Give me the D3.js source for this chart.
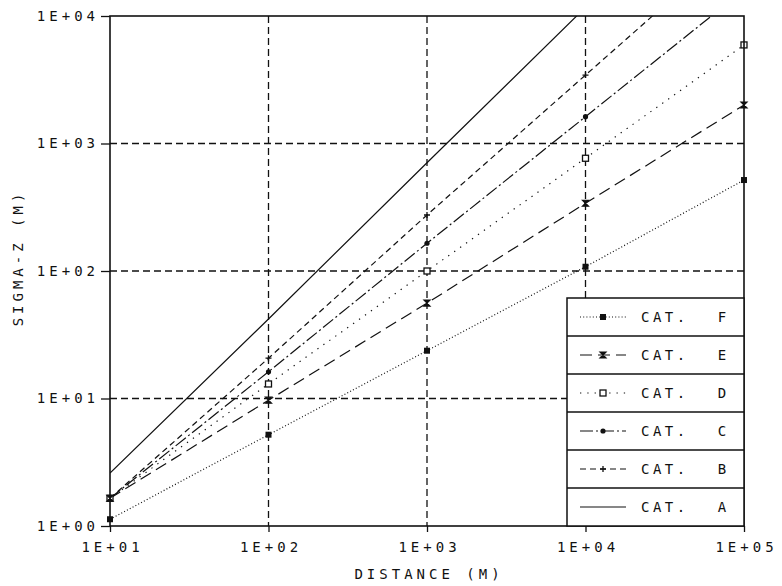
<!DOCTYPE html>
<html>
<head>
<meta charset="utf-8">
<script src="https://cdn.jsdelivr.net/npm/d3@7"></script>
<style>
  html, body { margin: 0; padding: 0; background: #fff; }
  svg text { font-family: "DejaVu Sans Mono", monospace; fill: #111; }
</style>
</head>
<body>
<svg id="chart" width="782" height="586"></svg>
<script>
// ---- data ----
const distances = [10, 100, 1000, 10000, 100000];
const catA = [2.6, 42, 707, 11700];
const catB = [1.65, 20.7, 275, 3440, 43000];
const catC = [1.65, 16.2, 165, 1623, 16000];
const catD = [1.65, 13, 100, 766, 5930];
const catE = [1.65, 9.7, 56, 340, 2005];
const catF = [1.13, 5.2, 23.7, 108, 517];
const xTicks = [10, 100, 1000, 10000, 100000];
const yTicks = [1, 10, 100, 1000, 10000];
const xTickLabels = ["1E+01", "1E+02", "1E+03", "1E+04", "1E+05"];
const yTickLabels = ["1E+00", "1E+01", "1E+02", "1E+03", "1E+04"];
const legendNames = ["CAT. F", "CAT. E", "CAT. D", "CAT. C", "CAT. B", "CAT. A"];

const seriesList = [
  { name: "CAT. A", values: catA, dash: null, marker: null },
  { name: "CAT. B", values: catB, dash: "6,4", marker: "plus" },
  { name: "CAT. C", values: catC, dash: "13,3,2,3", marker: "dot" },
  { name: "CAT. D", values: catD, dash: "1.3,6", marker: "sqOpen" },
  { name: "CAT. E", values: catE, dash: "12,6", marker: "hourglass" },
  { name: "CAT. F", values: catF, dash: "1,2.2", marker: "sqFill" }
];

// ---- layout ----
const svg = d3.select("#chart");
const L = 110, R = 744, T = 16, B = 526;
const x = d3.scaleLog().domain([10, 1e5]).range([L, R]);
const y = d3.scaleLog().domain([1, 1e4]).range([B, T]);
const ink = "#111";

svg.append("defs").append("clipPath").attr("id", "plotclip")
  .append("rect").attr("x", L).attr("y", T).attr("width", R - L).attr("height", B - T);

// gridlines
const grid = svg.append("g").attr("stroke", ink).attr("stroke-width", 1.3).attr("stroke-dasharray", "7,4");
xTicks.slice(1, -1).forEach(v => {
  grid.append("line").attr("x1", x(v)).attr("x2", x(v)).attr("y1", T).attr("y2", B);
});
yTicks.slice(1, -1).forEach(v => {
  grid.append("line").attr("x1", L).attr("x2", R).attr("y1", y(v)).attr("y2", y(v));
});

// series lines
const lineGen = d3.line().x((d, i) => x(distances[i])).y(d => y(d));
const plot = svg.append("g").attr("clip-path", "url(#plotclip)");
seriesList.forEach(s => {
  plot.append("path")
    .attr("d", lineGen(s.values))
    .attr("fill", "none")
    .attr("stroke", ink)
    .attr("stroke-width", 1.2)
    .attr("stroke-dasharray", s.dash);
});

function drawMarker(g, type, cx, cy) {
  const r = 3;
  if (type === "plus") {
    g.append("path").attr("d", `M${cx - r},${cy}H${cx + r}M${cx},${cy - r}V${cy + r}`)
      .attr("stroke", ink).attr("stroke-width", 1.3).attr("fill", "none");
  } else if (type === "dot") {
    g.append("circle").attr("cx", cx).attr("cy", cy).attr("r", 2.6).attr("fill", ink);
  } else if (type === "sqOpen") {
    g.append("rect").attr("x", cx - 3).attr("y", cy - 3).attr("width", 6).attr("height", 6)
      .attr("fill", "#fff").attr("stroke", ink).attr("stroke-width", 1.3);
  } else if (type === "hourglass") {
    g.append("path").attr("d", `M${cx - r},${cy - r}H${cx + r}L${cx - r},${cy + r}H${cx + r}Z`)
      .attr("stroke", ink).attr("stroke-width", 1.2).attr("fill", ink);
  } else if (type === "sqFill") {
    g.append("rect").attr("x", cx - 3).attr("y", cy - 3).attr("width", 6).attr("height", 6).attr("fill", ink);
  }
}

const markers = svg.append("g");
seriesList.forEach(s => {
  if (!s.marker) return;
  s.values.forEach((v, i) => {
    if (v <= 1e4) drawMarker(markers, s.marker, x(distances[i]), y(v));
  });
});

// frame
svg.append("rect").attr("x", L).attr("y", T).attr("width", R - L).attr("height", B - T)
  .attr("fill", "none").attr("stroke", ink).attr("stroke-width", 1.6);

// axes
const fontSize = 14, spacing = 4;
function styleText(sel, fs, sp) {
  sel.attr("font-size", fs).style("letter-spacing", sp + "px").attr("fill", ink);
}
const xAxis = d3.axisBottom(x).tickValues(xTicks).tickSize(6).tickPadding(10)
  .tickFormat((d, i) => xTickLabels[i]);
const gx = svg.append("g").attr("transform", `translate(0,${B})`).call(xAxis);
gx.select(".domain").remove();
gx.selectAll("line").attr("stroke", ink).attr("stroke-width", 1.3);
styleText(gx.selectAll("text"), fontSize, spacing);
gx.selectAll("text").attr("dx", spacing / 2);

const yAxis = d3.axisLeft(y).tickValues(yTicks).tickSize(9).tickPadding(6)
  .tickFormat((d, i) => yTickLabels[i]);
const gy = svg.append("g").attr("transform", `translate(${L},0)`).call(yAxis);
gy.select(".domain").remove();
gy.selectAll("line").attr("stroke", ink).attr("stroke-width", 1.3);
styleText(gy.selectAll("text"), fontSize, spacing);
gy.selectAll("text").attr("dx", spacing);

styleText(svg.append("text").attr("x", (L + R) / 2 + spacing / 2).attr("y", 579)
  .attr("text-anchor", "middle").text("DISTANCE (M)"), fontSize, spacing);

styleText(svg.append("text").attr("transform", "translate(23,258) rotate(-90)")
  .attr("text-anchor", "middle").text("SIGMA-Z (M)"), fontSize, spacing);

// legend
const legX0 = 567, legX1 = R, legTop = 298, rowH = (B - legTop) / 6;
const leg = svg.append("g");
leg.append("rect").attr("x", legX0).attr("y", legTop).attr("width", legX1 - legX0).attr("height", B - legTop)
  .attr("fill", "#fff").attr("stroke", ink).attr("stroke-width", 1.5);
legendNames.forEach((name, i) => {
  const s = seriesList.find(d => d.name === name);
  const yTop = legTop + i * rowH;
  const cy = yTop + rowH / 2;
  if (i > 0) leg.append("line").attr("x1", legX0).attr("x2", legX1).attr("y1", yTop).attr("y2", yTop)
    .attr("stroke", ink).attr("stroke-width", 1.3);
  leg.append("line").attr("x1", 580).attr("x2", 626).attr("y1", cy).attr("y2", cy)
    .attr("stroke", ink).attr("stroke-width", 1.2).attr("stroke-dasharray", s.dash);
  if (s.marker) drawMarker(leg, s.marker, 603, cy);
  const parts = name.split(" ");
  styleText(leg.append("text").attr("x", 641).attr("y", cy + 5).text(parts[0]), 14, 3.5);
  styleText(leg.append("text").attr("x", 722).attr("y", cy + 5)
    .attr("text-anchor", "middle").text(parts[1]), 14, 0);
});
</script>
</body>
</html>
